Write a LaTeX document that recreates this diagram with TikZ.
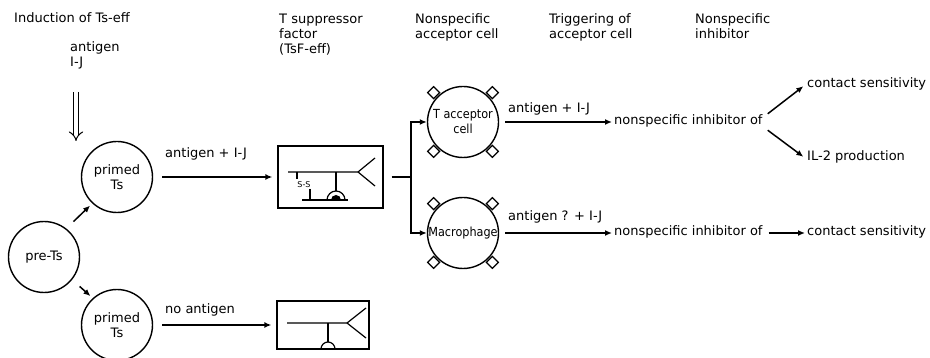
\documentclass[tikz,border=0pt]{standalone}
\usepackage{fontspec}
\setmainfont{DejaVu Sans}
\newfontfamily\condfont{DejaVu Sans Condensed}
\usetikzlibrary{arrows.meta,shapes.geometric}

\begin{document}
\begin{tikzpicture}[x=1pt,y=-1pt,
  every node/.style={font=\fontsize{13}{15}\selectfont, inner sep=2pt},
  lbl/.style={anchor=base west, align=left},
  head/.style={anchor=north west, align=left},
  txt/.style={anchor=west, text height=9pt, text depth=3pt},
  cell/.style={draw, circle, line width=1.4pt, minimum size=71pt, inner sep=0pt, align=center},
  condcell/.style={cell, font=\condfont\fontsize{12.5}{15}\selectfont},
  factorbox/.style={draw, line width=1.3pt, inner sep=0pt},
  arr/.style={line width=1.5pt, -{Latex[length=7pt,width=6pt]}},
  receptor/.style={draw, diamond, fill=white, line width=1.2pt, minimum size=12.5pt, inner sep=0pt},
  chain/.style={line width=1.2pt},
]
\path[fill=white, use as bounding box] (0,0) rectangle (930,358);

% column headings
\node[lbl]  (hInd)  at (12,23)  {Induction of Ts-eff};
\node[head] (hTsF)  at (277,11.5) {T suppressor\\factor\\(TsF-eff)};
\node[head] (hAcc)  at (413,11.5) {Nonspecific\\acceptor cell};
\node[head] (hTrig) at (547,11.5) {Triggering of\\acceptor cell};
\node[head] (hInh)  at (693,11.5) {Nonspecific\\inhibitor};

% induction signal
\node[head] (ag) at (68,39) {antigen\\I-J};
\coordinate (ha) at (76,92);
\coordinate (hb) at (76,141);
\draw[double, double distance=4pt, line width=1pt, -{Implies}] (ha) -- (hb);

% cells
\node[cell] (pre) at (44,257) {pre-Ts};
\node[cell] (p1) at (117,177) {primed\\Ts};
\node[cell] (p2) at (117,325) {primed\\Ts};
\node[condcell] (tac) at (463,122) {T acceptor\\cell};
\node[condcell] (mac) at (463,233) {Macrophage};

% surface receptors
\foreach \c in {tac,mac}{
  \foreach \a in {45,135,225,315}{
    \node[receptor] at ([shift={(\a:41.5)}]\c.center) {};
  }
}

% suppressor factor molecules
\node[factorbox, minimum width=105pt, minimum height=62pt] (tsf) at (330.5,177) {};
\node[factorbox, minimum width=92pt, minimum height=48pt] (tsf0) at (323,325) {};

% complete factor: chains, S-S bridge, antigen binding arms, I-J site
\draw[chain] (288,172) -- (358,172) -- (375,158);
\draw[chain] (358,172) -- (375,186);
\draw[chain] (297,172) -- (297,179);
\node[font=\fontsize{8}{8}\selectfont, inner sep=0pt] (ss) at (304,185) {S-S};
\draw[chain] (310,189) -- (310,200);
\draw[chain] (302,200) -- (348,200);
\draw[chain] (336,172) -- (336,191);
\draw[chain] (327,200) arc (180:360:9);
\fill (331,200) arc (180:360:5) -- cycle;

% factor without antigen
\draw[chain] (287,323) -- (347,323) -- (366,308);
\draw[chain] (347,323) -- (366,338);
\draw[chain] (328,323) -- (328,342);
\draw[chain] (321,349) arc (180:360:7);

% connectors on the left
\draw[arr, shorten <=10pt, shorten >=3pt] (pre.52) -- (p1.227);
\draw[arr, shorten <=10pt, shorten >=3pt] (pre.-39) -- (p2.132);
\draw[arr, shorten <=9pt, shorten >=5pt] (p1) -- (tsf);
\node[lbl] (l1) at (163,158) {antigen + I-J};
\draw[arr, shorten <=9pt, shorten >=5pt] (p2) -- (tsf0);
\node[lbl] (l2) at (163,314) {no antigen};

% branching to acceptor cells
\coordinate (fork) at (411,177);
\draw[line width=1.5pt, shorten <=8pt] (tsf.east) -- (fork);
\draw[arr] (fork) |- (tac.west);
\draw[arr] (fork) |- (mac.west);

% upper pathway
\node[txt] (ni1) at (612,122) {nonspecific inhibitor of};
\draw[arr, shorten <=6pt] (tac.east) -- (ni1.west);
\node[lbl] (l3) at (506,113) {antigen + I-J};
\node[txt] (cs1) at (805,85) {contact sensitivity};
\node[txt] (il2) at (805,158) {IL-2 production};
\draw[arr, shorten >=2pt] ([xshift=3pt]ni1.north east) -- (cs1.west);
\draw[arr, shorten >=2pt] ([xshift=3pt]ni1.south east) -- (il2.west);

% lower pathway
\node[txt] (ni2) at (612,233) {nonspecific inhibitor of};
\draw[arr, shorten <=6pt] (mac.east) -- (ni2.west);
\node[lbl] (l4) at (506,221) {antigen ? + I-J};
\node[txt] (cs2) at (805,233) {contact sensitivity};
\draw[arr, shorten <=4pt] (ni2.east) -- (cs2.west);
\end{tikzpicture}
\end{document}
